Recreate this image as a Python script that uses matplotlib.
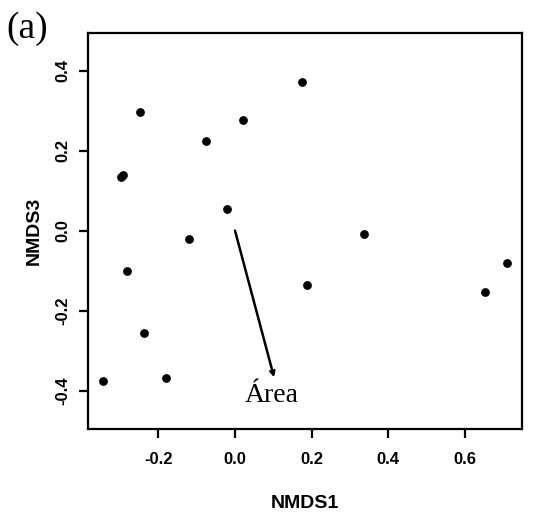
import matplotlib
matplotlib.use("Agg")
import matplotlib.pyplot as plt

# NMDS site scores
nmds1 = [-0.249, 0.174, 0.022, -0.075, -0.292, -0.297, -0.021, -0.121,
         0.337, 0.710, -0.282, 0.187, 0.654, -0.237, -0.344, -0.179]
nmds3 = [0.298, 0.373, 0.277, 0.225, 0.139, 0.135, 0.053, -0.021,
         -0.008, -0.080, -0.102, -0.135, -0.153, -0.256, -0.375, -0.368]

# fitted vector for the environmental variable
vec_name = "Área"
vec_x, vec_y = 0.102, -0.367

x_ticks = [-0.2, 0.0, 0.2, 0.4, 0.6]
y_ticks = [-0.4, -0.2, 0.0, 0.2, 0.4]

plt.rcParams["font.family"] = ["Liberation Sans", "DejaVu Sans"]

fig = plt.figure(figsize=(5.45, 5.18), dpi=100)
ax = fig.add_axes([0.1615, 0.172, 0.7965, 0.764])

ax.scatter(nmds1, nmds3, s=28, color="black", zorder=3)

ax.annotate("", xy=(vec_x, vec_y), xytext=(0, 0),
            arrowprops=dict(arrowstyle="->,head_length=0.3,head_width=0.15",
                            color="black", lw=1.8, shrinkA=0, shrinkB=0))
ax.text(vec_x - 0.006, vec_y - 0.046, vec_name, ha="center", va="center",
        fontsize=20, family="Liberation Serif")

ax.set_xlim(-0.384, 0.750)
ax.set_ylim(-0.496, 0.494)
ax.set_xticks(x_ticks)
ax.set_yticks(y_ticks)
ax.set_xticklabels([f"{v:.1f}" for v in x_ticks], fontsize=12, weight="bold")
ax.set_yticklabels([f"{v:.1f}" for v in y_ticks], fontsize=12, weight="bold",
                   rotation=90, va="center")
ax.tick_params(direction="out", length=6.5, width=1.6)
ax.tick_params(axis="x", pad=10)
ax.tick_params(axis="y", pad=6)

for sp in ax.spines.values():
    sp.set_linewidth(1.6)

ax.set_xlabel("NMDS1", fontsize=14, weight="bold", labelpad=20)
ax.set_ylabel("NMDS3", fontsize=14, weight="bold", labelpad=9)

fig.text(0.012, 0.945, "(a)", fontsize=27, family="Liberation Serif",
         ha="left", va="center")

fig.savefig("out.png", dpi=100)
